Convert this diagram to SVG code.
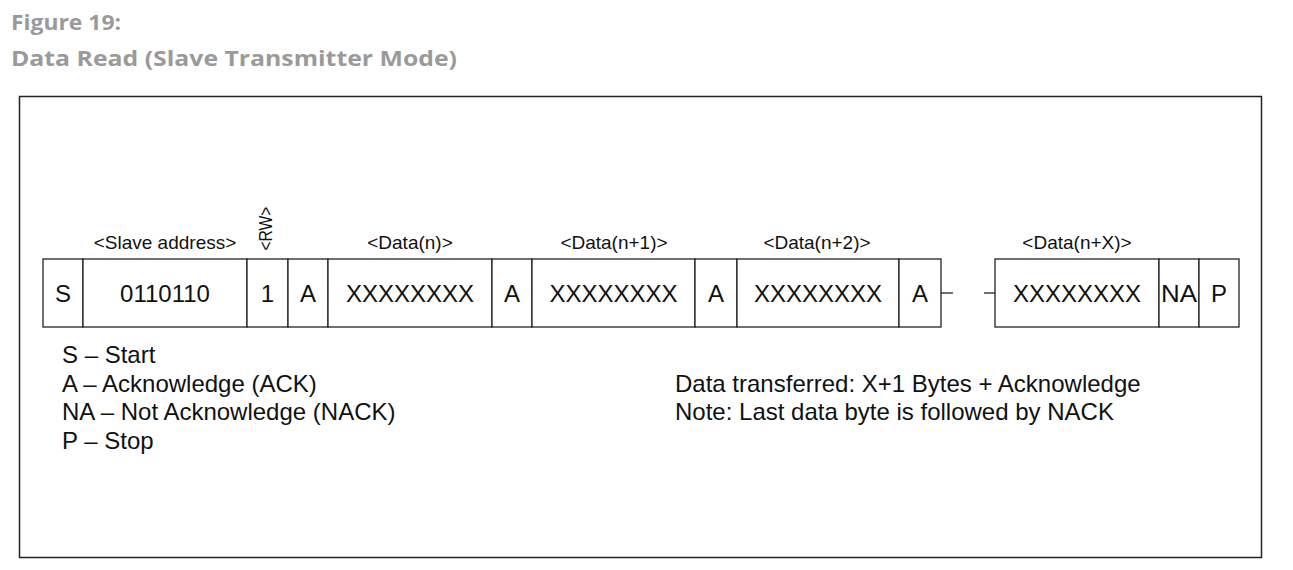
<svg xmlns="http://www.w3.org/2000/svg" width="1293" height="570" viewBox="0 0 1293 570">
<style>
.title{font-family:"Open Sans","Liberation Sans",sans-serif;font-weight:700;font-size:22px;fill:#9a9a9a}
.cell{fill:#fff;stroke:#222;stroke-width:1.3}
.t{font-family:"Liberation Sans",Arial,sans-serif;font-size:24px;fill:#111;text-anchor:middle}
.lbl{font-family:"Liberation Sans",Arial,sans-serif;font-size:19px;fill:#111;text-anchor:middle}
.leg{font-family:"Liberation Sans",Arial,sans-serif;font-size:24px;fill:#111}
.ln{stroke:#222;stroke-width:1.3;fill:none}
</style>
<rect width="1293" height="570" fill="#fff"/>
<text class="title" x="11" y="30" textLength="110" lengthAdjust="spacingAndGlyphs">Figure 19:</text>
<text class="title" x="11" y="66" textLength="446" lengthAdjust="spacingAndGlyphs">Data Read (Slave Transmitter Mode)</text>
<rect x="19.5" y="96.5" width="1242" height="461" fill="none" stroke="#222" stroke-width="1.5"/>
<g id="labels">
<text class="lbl" x="165" y="249">&lt;Slave address&gt;</text>
<text class="lbl" transform="translate(272,228.5) rotate(-90)" font-size="17" textLength="44" lengthAdjust="spacingAndGlyphs">&lt;RW&gt;</text>
<text class="lbl" x="410" y="249">&lt;Data(n)&gt;</text>
<text class="lbl" x="614" y="249">&lt;Data(n+1)&gt;</text>
<text class="lbl" x="817" y="249">&lt;Data(n+2)&gt;</text>
<text class="lbl" x="1077" y="249">&lt;Data(n+X)&gt;</text>
</g>
<g id="n-S"><rect class="cell" x="43" y="259" width="40" height="68"/><text class="t" x="63" y="302">S</text></g>
<g id="n-addr"><rect class="cell" x="83" y="259" width="164" height="68"/><text class="t" x="165" y="302">0110110</text></g>
<g id="n-rw"><rect class="cell" x="247" y="259" width="41" height="68"/><text class="t" x="267.5" y="302">1</text></g>
<g id="n-a1"><rect class="cell" x="288" y="259" width="40" height="68"/><text class="t" x="308" y="302">A</text></g>
<g id="n-d1"><rect class="cell" x="328" y="259" width="164" height="68"/><text class="t" x="410" y="302">XXXXXXXX</text></g>
<g id="n-a2"><rect class="cell" x="492" y="259" width="40" height="68"/><text class="t" x="512" y="302">A</text></g>
<g id="n-d2"><rect class="cell" x="532" y="259" width="163" height="68"/><text class="t" x="613.5" y="302">XXXXXXXX</text></g>
<g id="n-a3"><rect class="cell" x="695" y="259" width="42" height="68"/><text class="t" x="716" y="302">A</text></g>
<g id="n-d3"><rect class="cell" x="737" y="259" width="162" height="68"/><text class="t" x="818" y="302">XXXXXXXX</text></g>
<g id="n-a4"><rect class="cell" x="899" y="259" width="42" height="68"/><text class="t" x="920" y="302">A</text></g>
<g id="n-dx"><rect class="cell" x="995" y="259" width="164" height="68"/><text class="t" x="1077" y="302">XXXXXXXX</text></g>
<g id="n-na"><rect class="cell" x="1159" y="259" width="40" height="68"/><text class="t" x="1179" y="302" textLength="36" lengthAdjust="spacingAndGlyphs">NA</text></g>
<g id="n-p"><rect class="cell" x="1199" y="259" width="40" height="68"/><text class="t" x="1219" y="302">P</text></g>
<g id="connectors">
<line class="ln" x1="941" y1="293" x2="953" y2="293"/>
<line class="ln" x1="984" y1="293" x2="995" y2="293"/>
</g>
<g id="legend">
<text class="leg" x="62" y="363">S – Start</text>
<text class="leg" x="62" y="392">A – Acknowledge (ACK)</text>
<text class="leg" x="62" y="420">NA – Not Acknowledge (NACK)</text>
<text class="leg" x="62" y="449">P – Stop</text>
<text class="leg" x="675" y="392">Data transferred: X+1 Bytes + Acknowledge</text>
<text class="leg" x="675" y="420">Note: Last data byte is followed by NACK</text>
</g>
</svg>
